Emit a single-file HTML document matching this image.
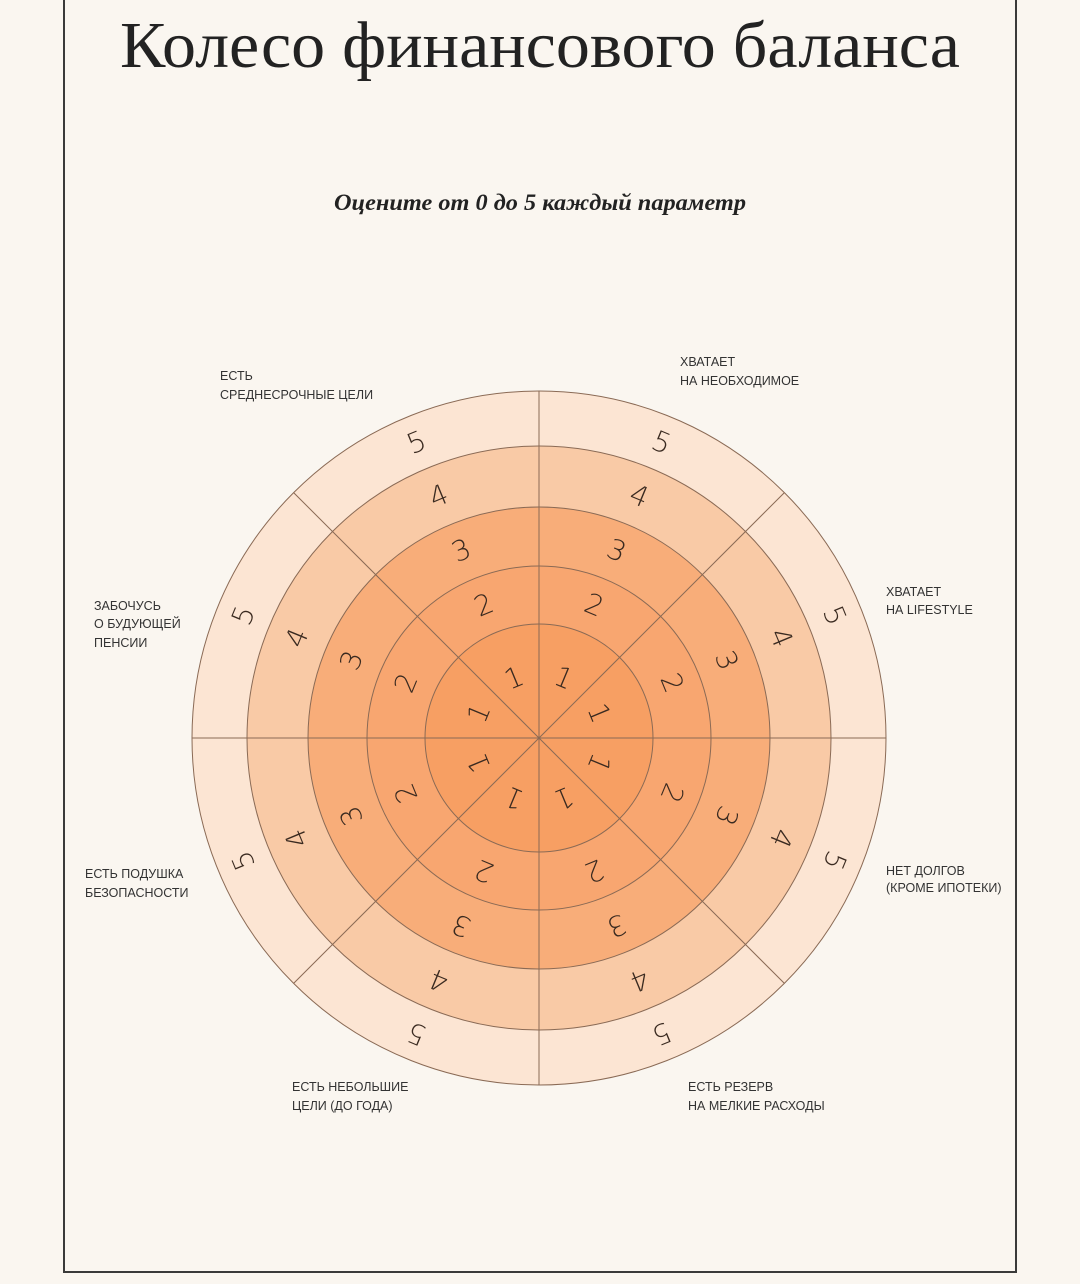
<!DOCTYPE html>
<html><head><meta charset="utf-8"><style>
html,body{margin:0;padding:0;background:#faf6f0;}
svg{display:block}
</style></head><body>
<svg width="1080" height="1284" viewBox="0 0 1080 1284" xmlns="http://www.w3.org/2000/svg">
<rect width="1080" height="1284" fill="#faf6f0"/>
<path d="M64 0 V1272 H1016 V0" fill="none" stroke="#3a3a3a" stroke-width="2"/>
<text x="540" y="67" text-anchor="middle" font-family="Liberation Serif, serif" font-size="66" fill="#222" textLength="840" lengthAdjust="spacingAndGlyphs">Колесо финансового баланса</text>
<text x="540" y="210" text-anchor="middle" font-family="Liberation Serif, serif" font-size="23" font-style="italic" font-weight="bold" fill="#222" textLength="412" lengthAdjust="spacingAndGlyphs">Оцените от 0 до 5 каждый параметр</text>
<g fill="none" stroke="#8a6a55" stroke-width="1">
<circle cx="539" cy="738" r="347" fill="#fce5d3"/>
<circle cx="539" cy="738" r="292" fill="#f9caa6"/>
<circle cx="539" cy="738" r="231" fill="#f8ad79"/>
<circle cx="539" cy="738" r="172" fill="#f8a670"/>
<circle cx="539" cy="738" r="114" fill="#f79f63"/>
<line x1="539" y1="391" x2="539" y2="1085"/>
<line x1="192" y1="738" x2="886" y2="738"/>
<line x1="293.6" y1="492.6" x2="784.4" y2="983.4"/>
<line x1="784.4" y1="492.6" x2="293.6" y2="983.4"/>
</g>
<g font-family="DejaVu Sans, Liberation Sans, sans-serif" font-weight="200" font-size="28" fill="#3a2a20" text-anchor="middle" dominant-baseline="central">
<g transform="rotate(22.5 539 738)"><text x="539" y="673">1</text><text x="539" y="594">2</text><text x="539" y="535">3</text><text x="539" y="476">4</text><text x="539" y="418">5</text></g>
<g transform="rotate(67.5 539 738)"><text x="539" y="673">1</text><text x="539" y="594">2</text><text x="539" y="535">3</text><text x="539" y="476">4</text><text x="539" y="418">5</text></g>
<g transform="rotate(112.5 539 738)"><text x="539" y="673">1</text><text x="539" y="594">2</text><text x="539" y="535">3</text><text x="539" y="476">4</text><text x="539" y="418">5</text></g>
<g transform="rotate(157.5 539 738)"><text x="539" y="673">1</text><text x="539" y="594">2</text><text x="539" y="535">3</text><text x="539" y="476">4</text><text x="539" y="418">5</text></g>
<g transform="rotate(202.5 539 738)"><text x="539" y="673">1</text><text x="539" y="594">2</text><text x="539" y="535">3</text><text x="539" y="476">4</text><text x="539" y="418">5</text></g>
<g transform="rotate(247.5 539 738)"><text x="539" y="673">1</text><text x="539" y="594">2</text><text x="539" y="535">3</text><text x="539" y="476">4</text><text x="539" y="418">5</text></g>
<g transform="rotate(292.5 539 738)"><text x="539" y="673">1</text><text x="539" y="594">2</text><text x="539" y="535">3</text><text x="539" y="476">4</text><text x="539" y="418">5</text></g>
<g transform="rotate(337.5 539 738)"><text x="539" y="673">1</text><text x="539" y="594">2</text><text x="539" y="535">3</text><text x="539" y="476">4</text><text x="539" y="418">5</text></g>
</g>
<g font-family="Liberation Sans, sans-serif" font-size="12.5" fill="#333">
<text x="680" y="366">ХВАТАЕТ</text><text x="680" y="385">НА НЕОБХОДИМОЕ</text>
<text x="220" y="380">ЕСТЬ</text><text x="220" y="399">СРЕДНЕСРОЧНЫЕ ЦЕЛИ</text>
<text x="886" y="596">ХВАТАЕТ</text><text x="886" y="614">НА LIFESTYLE</text>
<text x="94" y="610">ЗАБОЧУСЬ</text><text x="94" y="628">О БУДУЮЩЕЙ</text><text x="94" y="647">ПЕНСИИ</text>
<text x="886" y="875">НЕТ ДОЛГОВ</text><text x="886" y="892">(КРОМЕ ИПОТЕКИ)</text>
<text x="85" y="878">ЕСТЬ ПОДУШКА</text><text x="85" y="897">БЕЗОПАСНОСТИ</text>
<text x="688" y="1091">ЕСТЬ РЕЗЕРВ</text><text x="688" y="1110">НА МЕЛКИЕ РАСХОДЫ</text>
<text x="292" y="1091">ЕСТЬ НЕБОЛЬШИЕ</text><text x="292" y="1110">ЦЕЛИ (ДО ГОДА)</text>
</g>
</svg>
</body></html>
